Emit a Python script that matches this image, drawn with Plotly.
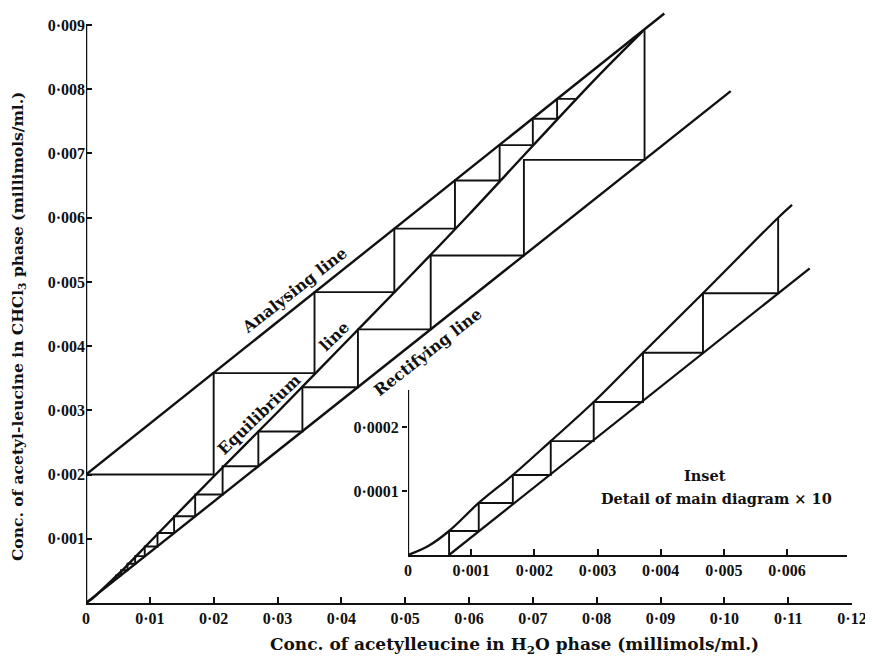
import plotly.graph_objects as go

# The page body has an 8 px default margin, so the figure is made 8 px smaller
# and every pixel position below (measured in the 873x663 window) is shifted by it.
OFF = 8
W, H = 873 - OFF, 663 - OFF

# ---------------- data ----------------
x_tick_vals = [0, 0.01, 0.02, 0.03, 0.04, 0.05, 0.06, 0.07, 0.08, 0.09, 0.10, 0.11, 0.12]
x_tick_text = ["0", "0·01", "0·02", "0·03", "0·04", "0·05", "0·06", "0·07", "0·08",
               "0·09", "0·10", "0·11", "0·12"]
y_tick_vals = [0.001, 0.002, 0.003, 0.004, 0.005, 0.006, 0.007, 0.008, 0.009]
y_tick_text = ["0·001", "0·002", "0·003", "0·004", "0·005", "0·006", "0·007", "0·008", "0·009"]

inset_x_tick_vals = [0, 0.001, 0.002, 0.003, 0.004, 0.005, 0.006]
inset_x_tick_text = ["0", "0·001", "0·002", "0·003", "0·004", "0·005", "0·006"]
inset_y_tick_vals = [0.0001, 0.0002]
inset_y_tick_text = ["0·0001", "0·0002"]

# main diagram lines
analysing_x = [0.0, 0.0906]
analysing_y = [0.002, 0.00918]

equilibrium_x = [0.0, 0.001, 0.002, 0.004, 0.006, 0.01, 0.02, 0.03, 0.04, 0.05, 0.06, 0.07, 0.08, 0.0872]
equilibrium_y = [0.0, 0.00007, 0.00016, 0.00035, 0.00054, 0.00095, 0.00197, 0.00297, 0.00399,
                 0.00501, 0.00605, 0.00712, 0.00818, 0.00890]

rectifying_x = [0.0, 0.101]
rectifying_y = [0.0, 0.00797]

# staircase between analysing and equilibrium lines
upper_steps_x = [0.0, 0.02, 0.02, 0.0358, 0.0358, 0.0483, 0.0483, 0.0578, 0.0578,
                 0.0648, 0.0648, 0.0700, 0.0700, 0.0738, 0.0738, 0.0767]
upper_steps_y = [0.002, 0.002, 0.00358, 0.00358, 0.00484, 0.00484, 0.00583, 0.00583, 0.00658,
                 0.00658, 0.00713, 0.00713, 0.00754, 0.00754, 0.00785, 0.00785]

# staircase between equilibrium and rectifying lines
lower_steps_x = [0.0875, 0.0875, 0.0686, 0.0686, 0.0540, 0.0540, 0.0426, 0.0426, 0.0339,
                 0.0339, 0.0270, 0.0270, 0.0214, 0.0214, 0.0171, 0.0171, 0.0138, 0.0138,
                 0.0112, 0.0112, 0.0092, 0.0092, 0.0077, 0.0077, 0.0065, 0.0065, 0.0055,
                 0.0055, 0.0047, 0.0047]
lower_steps_y = [0.00892, 0.0069, 0.0069, 0.00541, 0.00541, 0.00426, 0.00426, 0.00336, 0.00336,
                 0.00267, 0.00267, 0.00213, 0.00213, 0.00169, 0.00169, 0.00135, 0.00135, 0.00109,
                 0.00109, 0.00088, 0.00088, 0.00073, 0.00073, 0.00061, 0.00061, 0.00051, 0.00051,
                 0.00043, 0.00043, 0.00037]

# inset (detail x10)
inset_eq_x = [0.0, 0.00032, 0.00065, 0.00112, 0.00166, 0.00226, 0.00294, 0.00372, 0.00467, 0.00586, 0.00608]
inset_eq_y = [0.0, 0.000014, 0.0000375, 0.0000813, 0.000125, 0.000178, 0.000239, 0.000316,
              0.000409, 0.000527, 0.000547]
inset_rect_x = [0.00065, 0.00636]
inset_rect_y = [0.0, 0.000448]
inset_steps_x = [0.00586, 0.00586, 0.00467, 0.00467, 0.00372, 0.00372, 0.00294, 0.00294,
                 0.00226, 0.00226, 0.00166, 0.00166, 0.00112, 0.00112, 0.00065, 0.00065]
inset_steps_y = [0.000527, 0.000409, 0.000409, 0.000316, 0.000316, 0.000239, 0.000239, 0.000178,
                 0.000178, 0.000125, 0.000125, 0.0000813, 0.0000813, 0.0000375, 0.0000375, 0.0]

# ---------------- figure ----------------
INK = "#111111"
SERIF = "DejaVu Serif"
TICKFONT = dict(family="Liberation Serif", size=16, color=INK, weight="bold")

fig = go.Figure()

def add_line(x, y, xa, ya, w, shape="linear"):
    fig.add_trace(go.Scatter(x=x, y=y, mode="lines", xaxis=xa, yaxis=ya,
                             line=dict(color=INK, width=w, shape=shape),
                             hoverinfo="skip", showlegend=False))

add_line(analysing_x, analysing_y, "x", "y", 2.4)
add_line(equilibrium_x, equilibrium_y, "x", "y", 2.4, "spline")
add_line(rectifying_x, rectifying_y, "x", "y", 2.4)
add_line(upper_steps_x, upper_steps_y, "x", "y", 1.9)
add_line(lower_steps_x, lower_steps_y, "x", "y", 1.9)

add_line(inset_eq_x, inset_eq_y, "x2", "y2", 2.3, "spline")
add_line(inset_rect_x, inset_rect_y, "x2", "y2", 2.3)
add_line(inset_steps_x, inset_steps_y, "x2", "y2", 1.9)

# pixel-based layout helpers (window pixels -> figure fractions)
def xdom(p0, p1):
    return [(p0 - OFF) / W, (p1 - OFF) / W]

def ydom(p_bottom, p_top):
    return [(H - (p_bottom - OFF)) / H, (H - (p_top - OFF)) / H]

main_y_max = 0.00926
main_y_top_px = 603 - main_y_max * 64220
inset_y_max = 0.00058
inset_y_top_px = 555 - inset_y_max * 640000

common = dict(showgrid=False, zeroline=False, automargin=False, tickcolor=INK,
              tickwidth=1.6, tickfont=TICKFONT)

fig.update_layout(
    width=W, height=H,
    margin=dict(l=0, r=0, t=0, b=0),
    paper_bgcolor="white", plot_bgcolor="rgba(0,0,0,0)",
    showlegend=False,
    xaxis=dict(domain=xdom(86, 852), range=[0, 0.12], anchor="y",
               showline=True, linecolor=INK, linewidth=2.3,
               ticks="inside", ticklen=6,
               tickvals=x_tick_vals, ticktext=x_tick_text, **common),
    yaxis=dict(domain=ydom(603, main_y_top_px), range=[0, main_y_max], anchor="x",
               showline=False, ticks="inside", ticklen=6,
               tickvals=y_tick_vals, ticktext=y_tick_text, **common),
    xaxis2=dict(domain=xdom(408, 847), range=[0, 0.00695], anchor="y2",
                showline=True, linecolor=INK, linewidth=2.3,
                ticks="inside", ticklen=6,
                tickvals=inset_x_tick_vals, ticktext=inset_x_tick_text, **common),
    yaxis2=dict(domain=ydom(555, inset_y_top_px), range=[0, inset_y_max], anchor="x2",
                showline=False, ticks="outside", ticklen=5,
                tickvals=inset_y_tick_vals, ticktext=inset_y_tick_text, **common),
)

# vertical axis lines (stop at the last tick, as in the original)
fig.add_shape(type="line", xref="x", yref="y", x0=0, x1=0, y0=0, y1=0.009,
              line=dict(color=INK, width=2.5))
fig.add_shape(type="line", xref="x2", yref="y2", x0=0, x1=0, y0=0, y1=0.000258,
              line=dict(color=INK, width=2.3))

def ann(text, px, py, size, angle=0):
    fig.add_annotation(text=text, x=(px - OFF) / W, y=1 - (py - OFF) / H,
                       xref="paper", yref="paper",
                       showarrow=False, textangle=angle, xanchor="center", yanchor="middle",
                       font=dict(family=SERIF, size=size, color=INK))

ann("<b>Conc. of acetyl-leucine in CHCl<sub>3</sub> phase (millimols/ml.)</b>", 18, 327, 15.5, -90)
ann("<b>Conc. of acetylleucine in H<sub>2</sub>O phase (millimols/ml.)</b>", 514, 645, 17)
ann("<b>Analysing line</b>", 294, 290, 16, -38)
ann("<b>Equilibrium</b>", 259, 414, 16, -44)
ann("<b>line</b>", 334, 336, 16, -44)
ann("<b>Rectifying line</b>", 427, 352, 16, -38)
ann("<b>Inset</b>", 705, 476, 14.5)
ann("<b>Detail of main diagram × 10</b>", 716, 498, 14.5)

fig.write_html("out.html")
